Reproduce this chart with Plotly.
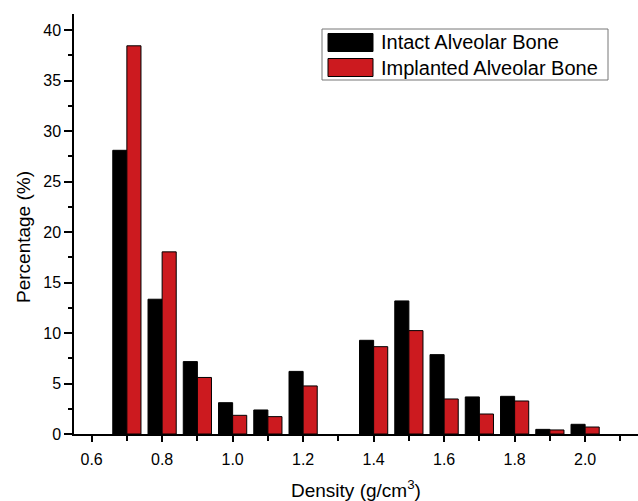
import plotly.graph_objects as go

density = [0.7, 0.8, 0.9, 1.0, 1.1, 1.2, 1.3, 1.4, 1.5, 1.6, 1.7, 1.8, 1.9, 2.0]
intact = [28.1, 13.35, 7.17, 3.1, 2.38, 6.2, 0.0, 9.28, 13.18, 7.86, 3.67, 3.73, 0.46, 0.96]
implanted = [38.45, 18.04, 5.6, 1.85, 1.72, 4.76, 0.0, 8.65, 10.24, 3.47, 1.98, 3.27, 0.4, 0.69]
series_names = ["Intact Alveolar Bone", "Implanted Alveolar Bone"]
x_ticks = [0.6, 0.8, 1.0, 1.2, 1.4, 1.6, 1.8, 2.0]
y_ticks = [0, 5, 10, 15, 20, 25, 30, 35, 40]

BLACK = "#000000"
RED = "#CC1A1F"
FONT = "Arial, Liberation Sans, Helvetica, sans-serif"

W, H = 638, 501
L, R, T, B = 74, 0, 14, 67
PW, PH = W - L - R, H - T - B

def px(x):
    return (x - L) / PW

def py(y):
    return (H - B - y) / PH

def outline(vals):
    return [1 if v > 0 else 0 for v in vals]

fig = go.Figure()
fig.add_trace(go.Bar(x=density, y=intact, name=series_names[0],
                     marker=dict(color=BLACK, line=dict(color="black", width=outline(intact)))))
fig.add_trace(go.Bar(x=density, y=implanted, name=series_names[1],
                     marker=dict(color=RED, line=dict(color="black", width=outline(implanted)))))

shapes = []
annotations = []
# legend box
shapes.append(dict(type="rect", xref="paper", yref="paper",
                   x0=px(322), x1=px(608), y0=py(80), y1=py(29),
                   line=dict(color="#777777", width=1), fillcolor="white", layer="above"))
for i, (col, name) in enumerate(zip([BLACK, RED], series_names)):
    top = 33.5 + i * 25
    shapes.append(dict(type="rect", xref="paper", yref="paper",
                       x0=px(328), x1=px(373), y0=py(top + 18), y1=py(top),
                       line=dict(color="black", width=1), fillcolor=col, layer="above"))
    annotations.append(dict(xref="paper", yref="paper", x=px(379), y=py(top + 9),
                            xanchor="left", yanchor="middle", showarrow=False,
                            text=name, font=dict(family=FONT, size=20, color="black")))

annotations.append(dict(xref="paper", yref="paper", x=px(356), y=py(489),
                        xanchor="center", yanchor="middle", showarrow=False,
                        text="Density (g/cm<sup>3</sup>)",
                        font=dict(family=FONT, size=19, color="black")))
annotations.append(dict(xref="paper", yref="paper", x=px(23), y=py(237),
                        xanchor="center", yanchor="middle", showarrow=False, textangle=-90,
                        text="Percentage (%)",
                        font=dict(family=FONT, size=19, color="black")))

fig.update_layout(
    width=W, height=H,
    margin=dict(l=L, r=R, t=T, b=B),
    paper_bgcolor="white", plot_bgcolor="white",
    barmode="group", bargap=0.2, bargroupgap=0,
    showlegend=False,
    font=dict(family=FONT, size=16, color="black"),
    shapes=shapes, annotations=annotations,
    xaxis=dict(range=[0.55, 2.15], tickvals=x_ticks, tickformat=".1f",
               showgrid=False, zeroline=False, showline=True, linecolor="black", linewidth=1.5,
               ticks="outside", ticklen=6, tickwidth=1.5, tickcolor="black",
               ticklabelstandoff=4,
               minor=dict(dtick=0.1, tick0=0.5, ticks="outside", ticklen=5, tickwidth=1.5, tickcolor="black"),
               tickfont=dict(family=FONT, size=16)),
    yaxis=dict(range=[0, 41.6], tickvals=y_ticks,
               showgrid=False, zeroline=False, showline=True, linecolor="black", linewidth=1.5,
               ticks="outside", ticklen=8, tickwidth=1.5, tickcolor="black",
               minor=dict(dtick=2.5, tick0=0, ticks="outside", ticklen=4, tickwidth=1.5, tickcolor="black"),
               tickfont=dict(family=FONT, size=16)),
)

fig.write_html("out.html")
